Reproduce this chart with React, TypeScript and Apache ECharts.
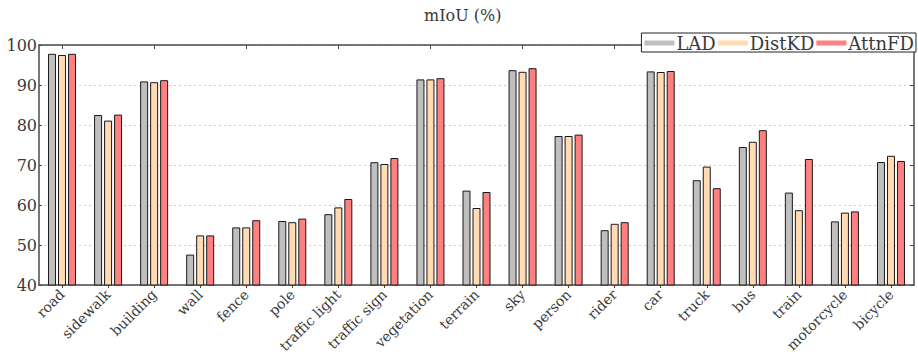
import React, { useEffect, useRef } from "react";
import * as echarts from "echarts";

const categories = [
  "road", "sidewalk", "building", "wall", "fence", "pole", "traffic light",
  "traffic sign", "vegetation", "terrain", "sky", "person", "rider", "car",
  "truck", "bus", "train", "motorcycle", "bicycle",
];
const ladValues = [97.8, 82.5, 90.9, 47.6, 54.4, 56.0, 57.7, 70.7, 91.4, 63.6, 93.7, 77.25, 53.7, 93.4, 66.2, 74.5, 63.1, 55.9, 70.75];
const distkdValues = [97.5, 81.1, 90.7, 52.4, 54.4, 55.7, 59.4, 70.25, 91.4, 59.25, 93.3, 77.25, 55.3, 93.25, 69.6, 75.8, 58.7, 58.1, 72.3];
const attnfdValues = [97.8, 82.6, 91.2, 52.4, 56.2, 56.6, 61.5, 71.75, 91.7, 63.25, 94.2, 77.6, 55.7, 93.5, 64.2, 78.7, 71.5, 58.4, 71.0];
const yTicks = { min: 40, max: 100, interval: 10 };

const FONT = "DejaVu Serif";
const TEXT = "#3a3a3a";
const AXIS = "#4a4a4a";

export default function App() {
  const ref = useRef<HTMLDivElement>(null);
  useEffect(() => {
    document.body.style.margin = "0";
    if (!ref.current) return;
    const chart = echarts.init(ref.current, null, { renderer: "svg" });
    const mkSeries = (name: string, data: number[], color: string) => ({
      name,
      type: "bar",
      data,
      barWidth: 8,
      barGap: "25%",
      itemStyle: { color, borderColor: "#1a1a1a", borderWidth: 1 },
    });
    chart.setOption({
      animation: false,
      backgroundColor: "#ffffff",
      title: {
        text: "mIoU (%)",
        left: 424,
        top: 7,
        padding: 0,
        textStyle: { fontFamily: FONT, fontSize: 16, fontWeight: "normal", color: TEXT },
      },
      legend: {
        right: 2,
        top: 33,
        orient: "horizontal",
        icon: "rect",
        itemWidth: 30,
        itemHeight: 5,
        itemGap: 2,
        padding: [1, 2, 0, 3],
        backgroundColor: "#ffffff",
        borderColor: "#222222",
        borderWidth: 1,
        borderRadius: 0,
        itemStyle: { borderWidth: 0 },
        textStyle: { fontFamily: FONT, fontSize: 18, color: TEXT, padding: [0, 0, 0, -3] },
        data: ["LAD", "DistKD", "AttnFD"],
      },
      grid: { left: 39, right: 4, top: 45, bottom: 73, containLabel: false, outerBoundsMode: "none" },
      xAxis: [
        {
          type: "category",
          data: categories,
          position: "bottom",
          axisLine: { show: true, lineStyle: { color: AXIS, width: 1.5 } },
          axisTick: { show: true, alignWithLabel: true, length: 3, lineStyle: { color: AXIS } },
          axisLabel: {
            rotate: 45,
            interval: 0,
            margin: 7,
            fontFamily: FONT,
            fontSize: 14,
            color: TEXT,
          },
        },
        {
          type: "category",
          data: categories,
          position: "top",
          axisLine: { show: true, lineStyle: { color: AXIS, width: 1.5 } },
          axisTick: { show: true, inside: true, alignWithLabel: true, length: 4, lineStyle: { color: AXIS } },
          axisLabel: { show: false },
        },
      ],
      yAxis: [
        {
          type: "value",
          min: yTicks.min,
          max: yTicks.max,
          interval: yTicks.interval,
          position: "left",
          axisLine: { show: true, lineStyle: { color: AXIS, width: 1.5 } },
          axisTick: { show: true, inside: true, length: 3, lineStyle: { color: AXIS } },
          axisLabel: { fontFamily: FONT, fontSize: 16, color: TEXT, margin: 2 },
          splitLine: { show: true, lineStyle: { color: "#cccccc", type: [2, 3], width: 1 } },
        },
        {
          type: "value",
          min: yTicks.min,
          max: yTicks.max,
          interval: yTicks.interval,
          position: "right",
          axisLine: { show: true, lineStyle: { color: AXIS, width: 1.5 } },
          axisTick: { show: true, inside: true, length: 4, lineStyle: { color: AXIS } },
          axisLabel: { show: false },
          splitLine: { show: false },
        },
      ],
      series: [
        mkSeries("LAD", ladValues, "#bfbfbf"),
        mkSeries("DistKD", distkdValues, "#ffdab3"),
        mkSeries("AttnFD", attnfdValues, "#ff8080"),
      ],
    });
    return () => chart.dispose();
  }, []);
  return <div ref={ref} style={{ width: 918, height: 358 }} />;
}
